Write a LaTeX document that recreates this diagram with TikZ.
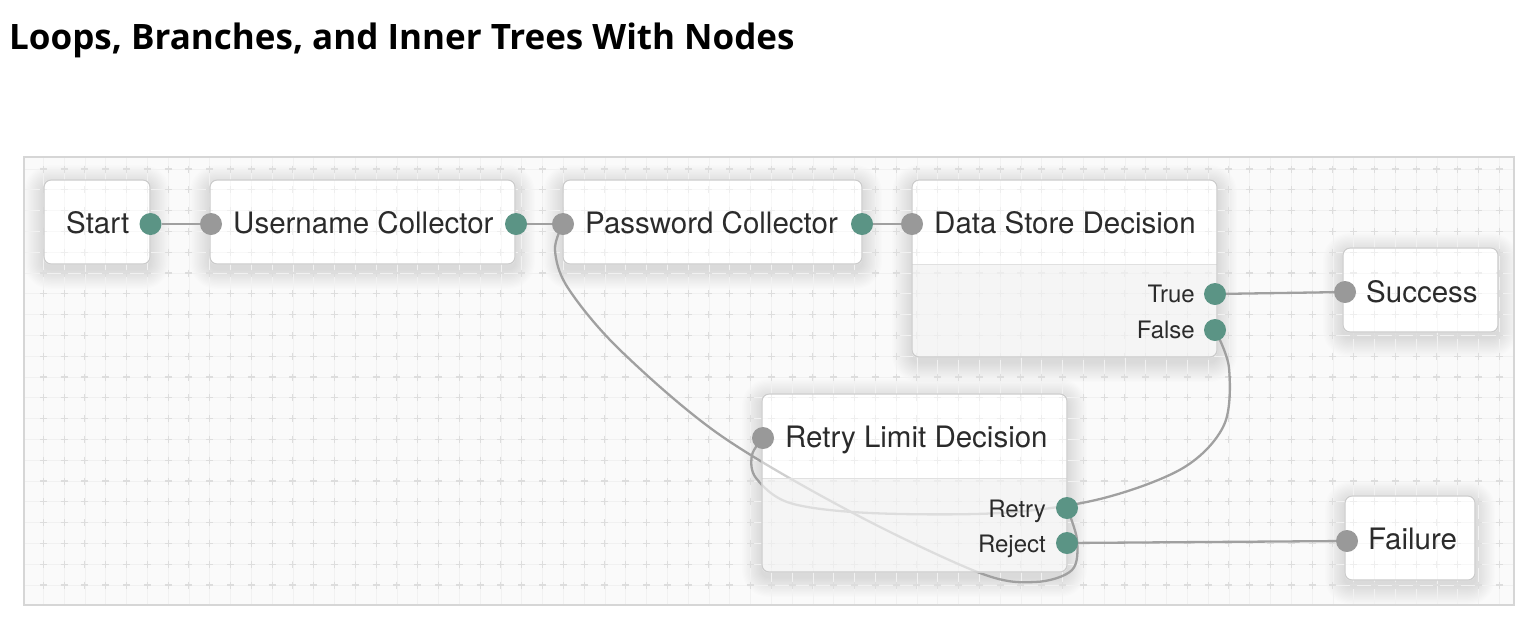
\documentclass[tikz,border=0pt]{standalone}
\usepackage{fontspec}
\setmainfont{TeX Gyre Heros}
\newfontfamily\titlefont{Open Sans}
\definecolor{txt}{HTML}{2B2B2B}
\definecolor{boxline}{HTML}{CCCCCC}
\definecolor{teal1}{HTML}{5B9485}
\definecolor{graydot}{HTML}{999999}
\definecolor{wirec}{HTML}{A0A0A0}
\definecolor{canvasbg}{HTML}{FAFAFA}
\definecolor{canvasline}{HTML}{D6D6D6}
\definecolor{gridline}{HTML}{F1F1F1}
\definecolor{gridcross}{HTML}{DDDDDD}
\definecolor{lowerfill}{HTML}{ECECEC}
\definecolor{sepline}{HTML}{E0E0E0}
\pgfdeclarelayer{canvas}
\pgfdeclarelayer{wires}
\pgfdeclarelayer{cover}
\pgfsetlayers{canvas,wires,cover,main}
\begin{document}
\begin{tikzpicture}[x=1pt,y=-1pt,
  lbl/.style={inner sep=0pt, anchor=base west, font=\fontsize{29.5}{32}\selectfont, text=txt},
  plbl/.style={inner sep=0pt, anchor=base east, font=\fontsize{24}{26}\selectfont, text=txt},
  box/.style={draw=boxline, line width=1.2pt, rounded corners=7pt, inner sep=0pt},
  dotT/.style={circle, fill=teal1, minimum size=22pt, inner sep=0pt},
  dotG/.style={circle, fill=graydot, minimum size=22pt, inner sep=0pt},
  wire/.style={draw=wirec, line width=2.3pt},
  cover box/.style={fill=white, fill opacity=0.5, rounded corners=7pt},
]
\useasboundingbox (0,0) rectangle (1533,622);

% title
\node[inner sep=0pt, anchor=base west, font=\titlefont\bfseries\fontsize{35}{40}\selectfont, text=black] (title) at (9,49) {Loops, Branches, and Inner Trees With Nodes};

% boxes
\node[box, minimum width=106pt, minimum height=84pt] (start) at (97,222) {};
\node[box, minimum width=305pt, minimum height=84pt] (user) at (362.5,222) {};
\node[box, minimum width=299pt, minimum height=84pt] (pass) at (712.5,222) {};
\node[box, minimum width=305pt, minimum height=177pt] (dsd) at (1064.5,268.5) {};
\node[box, minimum width=155pt, minimum height=84pt] (succ) at (1420.5,290) {};
\node[box, minimum width=305pt, minimum height=178pt] (rld) at (914.5,483) {};
\node[box, minimum width=130pt, minimum height=84pt] (fail) at (1410,538) {};

% labels
\node[lbl] (startT) at (66,233) {Start};
\node[lbl] (userT) at (233,233) {Username Collector};
\node[lbl] (passT) at (585,233) {Password Collector};
\node[lbl] (dsdT) at (934,233) {Data Store Decision};
\node[lbl] (succT) at (1366,302) {Success};
\node[lbl] (rldT) at (785,447) {Retry Limit Decision};
\node[lbl] (failT) at (1368,549) {Failure};
\node[plbl] (trueT) at (1195,302.5) {True};
\node[plbl] (falseT) at (1195,338.5) {False};
\node[plbl] (retryT) at (1046,517) {Retry};
\node[plbl] (rejectT) at (1046,552) {Reject};

% ports
\node[dotT] (startOut) at (150.5,224) {};
\node[dotG] (userIn) at (211,224) {};
\node[dotT] (userOut) at (516,224) {};
\node[dotG] (passIn) at (563,224) {};
\node[dotT] (passOut) at (862,224) {};
\node[dotG] (dsdIn) at (912,224) {};
\node[dotT] (trueOut) at (1215,294) {};
\node[dotT] (falseOut) at (1215,330) {};
\node[dotG] (succIn) at (1345,292) {};
\node[dotG] (rldIn) at (763,438) {};
\node[dotT] (retryOut) at (1067,508) {};
\node[dotT] (rejectOut) at (1067,543) {};
\node[dotG] (failIn) at (1347,541) {};

\begin{pgfonlayer}{canvas}
  \fill[canvasbg] (24,157) rectangle (1514,605);
  \begin{scope}
    \clip (24,157) rectangle (1514,605);
    % soft shadows
    \foreach \a/\b/\c/\d in {44/180/150/264, 210/180/515/264, 563/180/862/264, 912/180/1217/357, 1343/248/1498/332, 762/394/1067/572, 1345/496/1475/580}{
      \foreach \k in {1,...,16}{
        \pgfmathsetmacro\rc{7+1.25*\k}
        \fill[black, fill opacity=0.0075, rounded corners=\rc pt] ({\a-1.25*\k},{\b+5-1.25*\k}) rectangle ({\c+1.25*\k},{\d+5+1.25*\k});
      }
      \fill[white, rounded corners=7pt] (\a,\b) rectangle (\c,\d);
    }
  \end{scope}
  % grid lines
  \foreach \i in {0,...,70}
    \draw[gridline, line width=0.8pt] ({43.3+20.8*\i},158) -- ({43.3+20.8*\i},604);
  \foreach \j in {0,...,20}
    \draw[gridline, line width=0.8pt] (25,{169+20.8*\j}) -- (1513,{169+20.8*\j});
  % crosses
  \foreach \j in {0,...,20}
    \draw[gridcross, line width=1.1pt, dash pattern=on 7pt off 13.8pt] (39.8,{169+20.8*\j}) -- (1510,{169+20.8*\j});
  \foreach \i in {0,...,70}
    \draw[gridcross, line width=1.1pt, dash pattern=on 7pt off 13.8pt] ({43.3+20.8*\i},165.5) -- ({43.3+20.8*\i},600);
  \draw[canvasline, line width=1.2pt] (24,157) rectangle (1514,605);
\end{pgfonlayer}

\begin{pgfonlayer}{wires}
  \draw[wire] (startOut) -- (userIn);
  \draw[wire] (userOut) -- (passIn);
  \draw[wire] (passOut) -- (dsdIn);
  \draw[wire] (trueOut) -- (succIn);
  \draw[wire] (rejectOut) -- (failIn);
  \draw[wire] plot[smooth, tension=0.55] coordinates {(falseOut.center) (1229,368) (1224,425) (1183,468) (1100,499) (1000,513) (870,513) (790,503) (756,478) (752,455) (rldIn.center)};
  \draw[wire] plot[smooth, tension=0.55] coordinates {(retryOut.center) (1077,540) (1072,570) (1035,582) (980,573) (853,513) (720,435) (620,350) (568,288) (555,250) (passIn.center)};
\end{pgfonlayer}

\begin{pgfonlayer}{cover}
  \foreach \b in {start,user,pass,dsd,succ,rld,fail}
    \path[cover box] (\b.south west) rectangle (\b.north east);
  \begin{scope}
    \clip (912,264.5) rectangle (1218,360);
    \fill[lowerfill, fill opacity=0.5, rounded corners=7pt] (dsd.south west) rectangle (dsd.north east);
  \end{scope}
  \begin{scope}
    \clip (762,478) rectangle (1068,575);
    \fill[lowerfill, fill opacity=0.5, rounded corners=7pt] (rld.south west) rectangle (rld.north east);
  \end{scope}
  \draw[sepline, line width=1pt] (912,264.5) -- (1217,264.5);
  \draw[sepline, line width=1pt] (762,478) -- (1067,478);
\end{pgfonlayer}
\end{tikzpicture}
\end{document}
